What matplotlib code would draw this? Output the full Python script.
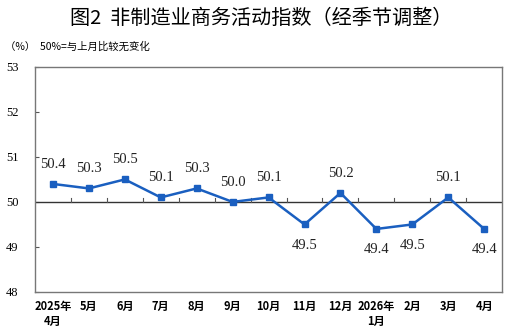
import matplotlib
matplotlib.use("Agg")
import matplotlib.pyplot as plt

plt.rcParams["font.family"] = ["Noto Sans CJK SC", "DejaVu Sans"]

# data
months = ["2025年\n4月", "5月", "6月", "7月", "8月", "9月", "10月", "11月",
          "12月", "2026年\n1月", "2月", "3月", "4月"]
values = [50.4, 50.3, 50.5, 50.1, 50.3, 50.0, 50.1, 49.5, 50.2, 49.4, 49.5, 50.1, 49.4]
label_below = [False, False, False, False, False, False, False, True,
               False, True, True, False, True]

fig = plt.figure(figsize=(5.22, 3.36), dpi=100)
ax = fig.add_axes([0.067, 0.131, 0.895, 0.670])

x = list(range(len(values)))
ax.plot(x, values, color="#1a5fc0", lw=1.8, marker="s", ms=4.5, zorder=3)

for xi, v, below in zip(x, values, label_below):
    off = -15 if below else 14
    ax.annotate(f"{v:.1f}", (xi, v), xytext=(0, off), textcoords="offset points",
                ha="center", va="center", fontsize=10.5, family="Liberation Serif",
                color="#222222")

# reference line at 50 with small upward ticks between months
ax.axhline(50, color="#333333", lw=1.0, zorder=2)
for b in range(1, len(values)):
    ax.plot([b - 0.5, b - 0.5], [50, 50.08], color="#555555", lw=0.8)

ax.set_xlim(-0.5, len(values) - 0.5)
ax.set_ylim(48, 53)
ax.set_yticks([48, 49, 50, 51, 52, 53])
ax.set_yticklabels(["48", "49", "50", "51", "52", "53"], family="Liberation Serif", fontsize=9)
ax.tick_params(axis="y", direction="in", length=3, color="#555555", pad=12)
ax.set_xticks(x)
ax.set_xticklabels(months, fontsize=8, fontweight="bold", linespacing=1.2, va="top")
ax.tick_params(axis="x", length=0, pad=6)
for s in ax.spines.values():
    s.set_color("#777777")
    s.set_linewidth(1.0)

fig.text(0.5, 0.946, "图2  非制造业商务活动指数（经季节调整）", ha="center", va="center",
         fontsize=14.5, fontweight="medium")
fig.text(0.01, 0.862, "（%）  50%=与上月比较无变化", ha="left", va="center", fontsize=7.5)

fig.savefig("out.png", dpi=100)
